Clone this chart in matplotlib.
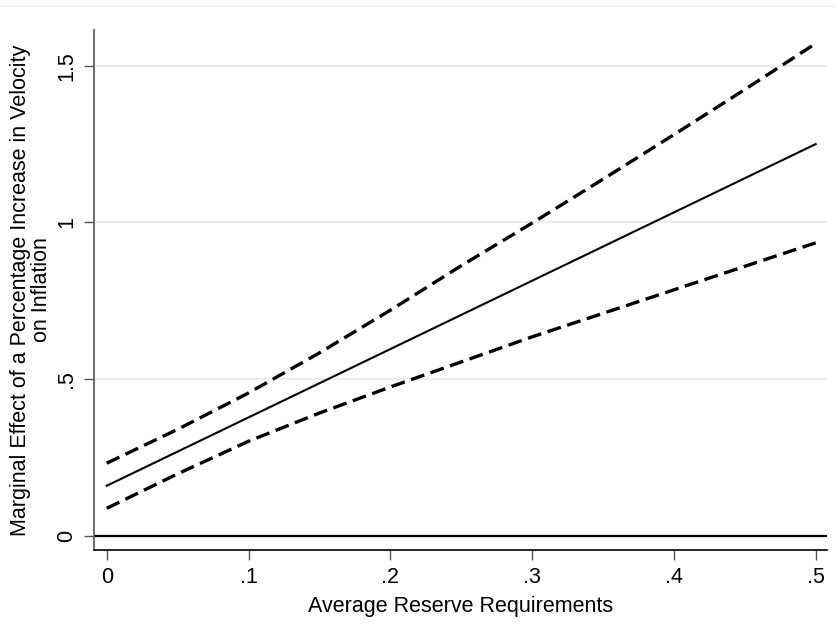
import numpy as np
import matplotlib
matplotlib.use("Agg")
from matplotlib import pyplot as plt
from matplotlib.lines import Line2D

plt.rcParams['font.family'] = ['Liberation Sans', 'DejaVu Sans']

# average reserve requirement grid and the marginal effect with its 95% band
reserve = [0.0, 0.05, 0.10, 0.15, 0.20, 0.25, 0.30, 0.35, 0.40, 0.45, 0.50]
effect = [0.16, 0.269, 0.378, 0.487, 0.596, 0.705, 0.814, 0.923, 1.032, 1.141, 1.25]
upper = [0.232, 0.34, 0.456, 0.584, 0.72, 0.862, 0.998, 1.138, 1.28, 1.424, 1.571]
lower = [0.088, 0.198, 0.302, 0.392, 0.475, 0.555, 0.635, 0.71, 0.785, 0.86, 0.935]

xticks = [0, 0.1, 0.2, 0.3, 0.4, 0.5]
xticklabels = ["0", ".1", ".2", ".3", ".4", ".5"]
yticks = [0, 0.5, 1, 1.5]
yticklabels = ["0", ".5", "1", "1.5"]

fig = plt.figure(figsize=(8.35, 6.28), dpi=100)
ax = fig.add_axes([94/835, 1 - 550/628, (827 - 94)/835, (550 - 30)/628])

for yv in yticks[1:]:
    ax.axhline(yv, color="#e9eff1", lw=1.6, zorder=0)
ax.axhline(0, color="black", lw=1.6, zorder=1)

ax.plot(reserve, effect, color="black", lw=1.5, zorder=3)
ax.plot(reserve, upper, color="black", lw=2.4, dashes=(4.2, 2.0), zorder=3)
ax.plot(reserve, lower, color="black", lw=2.4, dashes=(4.2, 2.0), zorder=3)

ax.set_xlim(-0.009, 0.508)
ax.set_ylim(-0.045, 1.614)

ax.spines['top'].set_visible(False)
ax.spines['right'].set_visible(False)
ax.spines['left'].set_color("#555555")
ax.spines['left'].set_linewidth(1.2)
ax.spines['bottom'].set_color("black")
ax.spines['bottom'].set_linewidth(1.2)

ax.set_xticks(xticks)
ax.set_xticklabels(xticklabels, fontsize=15.5)
ax.set_yticks(yticks)
ax.set_yticklabels(yticklabels, fontsize=15.5, rotation=90, va="center")
ax.tick_params(axis="both", direction="out", length=7, width=1, color="#555555", pad=5)

ax.set_xlabel("Average Reserve Requirements", fontsize=15.5, labelpad=6)
ax.set_ylabel("Marginal Effect of a Percentage Increase in Velocity\non Inflation",
              fontsize=15.5, labelpad=3, linespacing=1.0)

# faint frame line across the top of the image
fig.add_artist(Line2D([0, 1], [1 - 6/628, 1 - 6/628], color="#e9eff1", lw=1.2))

fig.savefig("out.png", dpi=100)
